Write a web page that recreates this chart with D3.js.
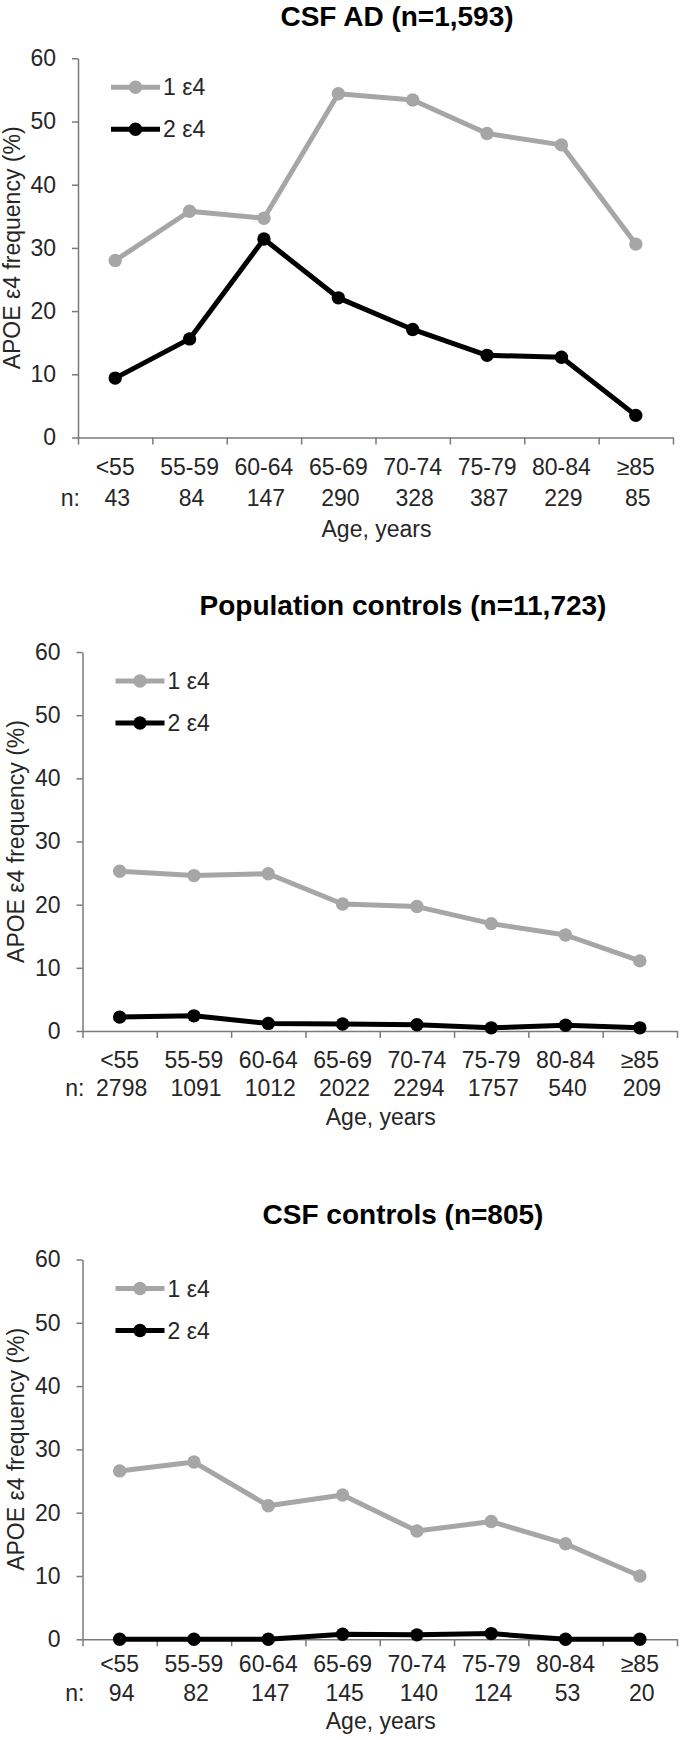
<!DOCTYPE html>
<html>
<head>
<meta charset="utf-8">
<script src="https://cdn.jsdelivr.net/npm/d3@7"></script>
<style>
  html, body { margin: 0; padding: 0; background: #fff; }
  svg { display: block; }
  text { font-family: "Liberation Sans", Arial, sans-serif; }
</style>
</head>
<body>
<svg id="chart" width="680" height="1740"></svg>
<script>
// ---------- data ----------
const ageGroups = ["<55", "55-59", "60-64", "65-69", "70-74", "75-79", "80-84", "≥85"];
const yTicks = [0, 10, 20, 30, 40, 50, 60];
const seriesNames = ["1 ε4", "2 ε4"];

const csfADTitle = "CSF AD (n=1,593)";
const csfADOne = [28.0, 35.8, 34.7, 54.4, 53.4, 48.1, 46.3, 30.6];
const csfADTwo = [9.4, 15.6, 31.4, 22.1, 17.1, 13.0, 12.7, 3.5];
const csfADN = [43, 84, 147, 290, 328, 387, 229, 85];

const popTitle = "Population controls (n=11,723)";
const popOne = [25.3, 24.6, 24.9, 20.1, 19.7, 17.0, 15.2, 11.1];
const popTwo = [2.2, 2.4, 1.2, 1.1, 1.0, 0.5, 0.9, 0.5];
const popN = [2798, 1091, 1012, 2022, 2294, 1757, 540, 209];

const csfCtrlTitle = "CSF controls (n=805)";
const csfCtrlOne = [26.6, 28.0, 21.1, 22.8, 17.1, 18.6, 15.1, 10.0];
const csfCtrlTwo = [0, 0, 0, 0.8, 0.7, 0.9, 0, 0];
const csfCtrlN = [94, 82, 147, 145, 140, 124, 53, 20];

// ---------- layout ----------
const panels = [
  { title: csfADTitle, one: csfADOne, two: csfADTwo, n: csfADN,
    x0: 78, x1: 673, yTop: 58.3, yBot: 437.5, titleX: 397, titleY: 26,
    labY: 474.5, nY: 506, ageY: 536.5, yTitleX: 20 },
  { title: popTitle, one: popOne, two: popTwo, n: popN,
    x0: 82.5, x1: 677, yTop: 652, yBot: 1031, titleX: 403, titleY: 615,
    labY: 1067.5, nY: 1096, ageY: 1125, yTitleX: 24 },
  { title: csfCtrlTitle, one: csfCtrlOne, two: csfCtrlTwo, n: csfCtrlN,
    x0: 82.5, x1: 677, yTop: 1259.5, yBot: 1639.3, titleX: 403, titleY: 1224,
    labY: 1672, nY: 1701, ageY: 1729, yTitleX: 24 }
];

const GRAY = "#a6a6a6";
const BLACK = "#000000";
const AXIS = "#7a7a7a";
const TEXT = "#262626";
const FS = 23;

const svg = d3.select("#chart");

panels.forEach(p => {
  const g = svg.append("g");
  const x = d3.scaleBand().domain(ageGroups).range([p.x0, p.x1]).padding(0);
  const xEdge = d3.scaleLinear().domain([0, ageGroups.length]).range([p.x0, p.x1]);
  const y = d3.scaleLinear().domain([0, 60]).range([p.yBot, p.yTop]);

  // title
  g.append("text")
    .attr("x", p.titleX).attr("y", p.titleY)
    .attr("text-anchor", "middle")
    .attr("font-size", 28).attr("font-weight", "bold")
    .attr("fill", "#000")
    .text(p.title);

  // y axis
  const yAxis = g.append("g")
    .attr("transform", `translate(${p.x0},0)`)
    .call(d3.axisLeft(y).tickValues(yTicks).tickSize(6).tickSizeOuter(0).tickPadding(16));
  yAxis.select(".domain").attr("stroke", AXIS).attr("stroke-width", 1.5);
  yAxis.selectAll(".tick line").attr("stroke", AXIS).attr("stroke-width", 1.5);
  yAxis.selectAll(".tick text")
    .attr("font-size", FS).attr("fill", TEXT)
    .attr("font-family", "Liberation Sans, Arial, sans-serif");

  // x axis (ticks at category boundaries)
  const xAxis = g.append("g")
    .attr("transform", `translate(0,${p.yBot})`)
    .call(d3.axisBottom(xEdge).tickValues(d3.range(0, ageGroups.length + 1))
      .tickSize(7).tickSizeOuter(0).tickFormat(""));
  xAxis.select(".domain").attr("stroke", AXIS).attr("stroke-width", 1.5);
  xAxis.selectAll(".tick line").attr("stroke", AXIS).attr("stroke-width", 1.5);

  // category labels
  g.selectAll(".cat").data(ageGroups).join("text")
    .attr("x", d => x(d) + x.bandwidth() / 2)
    .attr("y", p.labY)
    .attr("text-anchor", "middle")
    .attr("font-size", FS).attr("fill", TEXT)
    .text(d => d);

  // n row
  g.append("text")
    .attr("x", p.x0 + 2).attr("y", p.nY)
    .attr("text-anchor", "end")
    .attr("font-size", FS).attr("fill", TEXT)
    .text("n:");
  g.selectAll(".nval").data(p.n).join("text")
    .attr("x", (d, i) => x(ageGroups[i]) + x.bandwidth() / 2 + 2)
    .attr("y", p.nY)
    .attr("text-anchor", "middle")
    .attr("font-size", FS).attr("fill", TEXT)
    .text(d => d);

  // x axis title
  g.append("text")
    .attr("x", (p.x0 + p.x1) / 2 + 1).attr("y", p.ageY)
    .attr("text-anchor", "middle")
    .attr("font-size", FS).attr("fill", TEXT)
    .text("Age, years");

  // y axis title
  g.append("text")
    .attr("transform", `translate(${p.yTitleX},${(p.yTop + p.yBot) / 2}) rotate(-90)`)
    .attr("text-anchor", "middle")
    .attr("font-size", FS).attr("fill", TEXT)
    .text("APOE ε4 frequency (%)");

  // series
  const series = [
    { name: seriesNames[0], vals: p.one, color: GRAY },
    { name: seriesNames[1], vals: p.two, color: BLACK }
  ];
  const line = d3.line()
    .x((d, i) => x(ageGroups[i]) + x.bandwidth() / 2)
    .y(d => y(d));

  series.forEach(s => {
    g.append("path")
      .datum(s.vals)
      .attr("d", line)
      .attr("fill", "none")
      .attr("stroke", s.color)
      .attr("stroke-width", 5)
      .attr("stroke-linejoin", "round");
    g.selectAll(null).data(s.vals).join("circle")
      .attr("cx", (d, i) => x(ageGroups[i]) + x.bandwidth() / 2)
      .attr("cy", d => y(d))
      .attr("r", 6.7)
      .attr("fill", s.color);
  });

  // legend
  series.forEach((s, k) => {
    const ly = p.yTop + 29 + k * 42;
    const lx0 = p.x0 + 33, lx1 = p.x0 + 82;
    g.append("line")
      .attr("x1", lx0).attr("x2", lx1).attr("y1", ly).attr("y2", ly)
      .attr("stroke", s.color).attr("stroke-width", 5);
    g.append("circle")
      .attr("cx", (lx0 + lx1) / 2).attr("cy", ly).attr("r", 6.7)
      .attr("fill", s.color);
    g.append("text")
      .attr("x", lx1 + 3).attr("y", ly + 8)
      .attr("font-size", FS).attr("fill", TEXT)
      .text(s.name);
  });
});
</script>
</body>
</html>
